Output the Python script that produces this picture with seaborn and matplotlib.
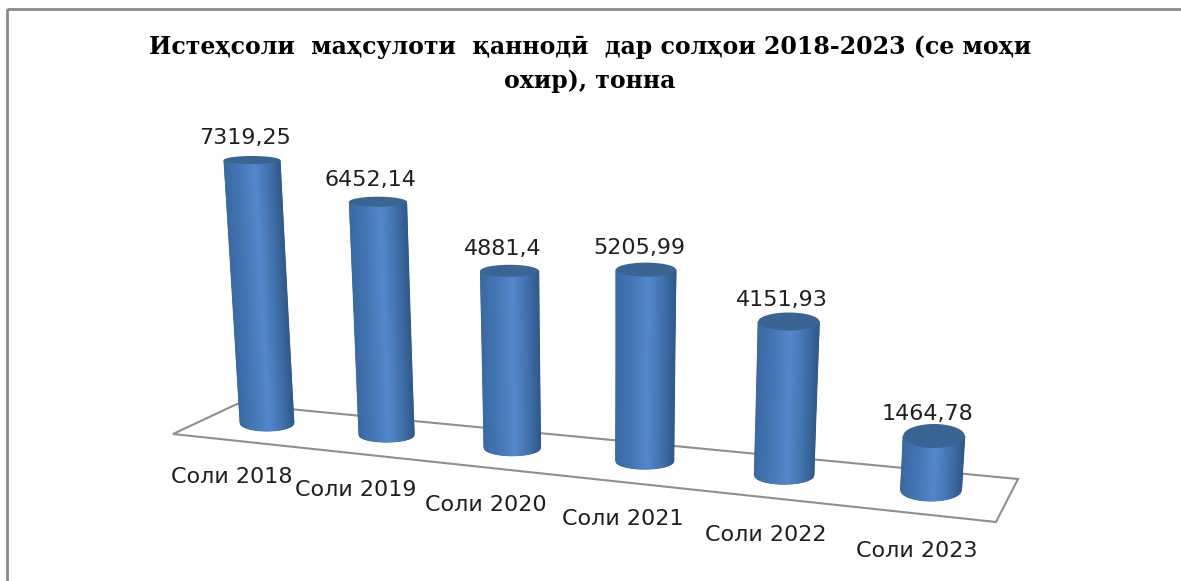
import numpy as np
import pandas as pd
import matplotlib
matplotlib.use("Agg")
import matplotlib.pyplot as plt
import seaborn as sns
from matplotlib.colors import LinearSegmentedColormap
from matplotlib.patches import Polygon, Rectangle
from matplotlib.transforms import Affine2D

# Chart content
TITLE_LINE_1 = "Истеҳсоли  маҳсулоти  қаннодӣ  дар солҳои 2018-2023 (се моҳи"
TITLE_LINE_2 = "охир), тонна"
years = ["Соли 2018", "Соли 2019", "Соли 2020", "Соли 2021", "Соли 2022", "Соли 2023"]
tonnes = [7319.25, 6452.14, 4881.4, 5205.99, 4151.93, 1464.78]
value_labels = ["7319,25", "6452,14", "4881,4", "5205,99", "4151,93", "1464,78"]

W, H = 1181, 581

# Cylinder rim depth in pixels, growing toward the viewer on the right
TOP_RIM = [4, 5, 6, 7, 9, 12]
BASE_RIM = [8, 7, 8, 8, 9, 11]

sns.set_theme(style="white")
plt.rcParams["font.family"] = ["DejaVu Sans"]

fig = plt.figure(figsize=(W / 100, H / 100), dpi=100, facecolor="white")
ax = fig.add_axes([0, 0, 1, 1])
table = pd.DataFrame({"position": np.arange(len(years)), "tonnes": tonnes})
sns.barplot(data=table, x="position", y="tonnes", ax=ax, color="#4a7ab5", width=0.43,
            errorbar=None, saturation=1, native_scale=True)
ax.set_axis_off()
bars = list(ax.patches)


def solve_camera(pairs):
    """Homography from (category, value) to image pixels, from four point pairs."""
    rows, rhs = [], []
    for (c, v), (px, py) in pairs:
        rows.append([c, v, 1, 0, 0, 0, -c * px, -v * px])
        rows.append([0, 0, 0, c, v, 1, -c * py, -v * py])
        rhs += [px, py]
    return np.append(np.linalg.solve(np.array(rows, float), np.array(rhs, float)), 1).reshape(3, 3)


CAMERA = solve_camera([
    ((0, 0), (267, 423)),
    ((5, 0), (931, 490)),
    ((0, tonnes[0]), (252, 160)),
    ((5, tonnes[5]), (934, 436)),
])


def project(c, v):
    """Pixel position of a category/value point; categories bunch slightly toward the far end."""
    c = c - 0.0115 * c * (5 - c)
    px, py, w = CAMERA @ np.array([c, v, 1.0])
    return np.array([px / w, py / w])


pixels = Affine2D().scale(1, -1).translate(0, H)

# Outer frame of the chart area
fig.add_artist(Rectangle((7, 9), W + 20, H + 20, fill=False, ec="#8a8a8a", lw=2.0,
                         transform=pixels))

# Floor outline under the cylinders
floor = np.array([(173, 434), (237, 404), (1018, 479), (996, 522)])
ax.add_patch(Polygon(floor, closed=True, fill=False, ec="#8f8f8f", lw=1.5,
                     transform=pixels, zorder=1, clip_on=False))

wall = LinearSegmentedColormap.from_list(
    "cylinder",
    [(0.0, "#3a6aa4"), (0.25, "#4576b4"), (0.55, "#5388cb"),
     (0.8, "#4272ad"), (1.0, "#2f5a8c")],
)

u = np.linspace(-1, 1, 61)
t = np.linspace(0, 2 * np.pi, 90)
for i, bar in enumerate(bars):
    cx = bar.get_x() + bar.get_width() / 2
    half = bar.get_width() / 2
    top = bar.get_height()
    foot = project(cx, 0)
    head = project(cx, top)
    # Radii stay close to constant along the row, so the projected width is damped
    damp = 1.07 - 0.026 * i
    r_foot = damp * (project(cx + half, 0)[0] - project(cx - half, 0)[0]) / 2
    r_head = damp * (project(cx + half, top)[0] - project(cx - half, top)[0]) / 2

    # Curved wall replaces the flat bar; its lower edge follows the base ellipse
    bar.set_visible(False)
    X = np.vstack([foot[0] + r_foot * u, head[0] + r_head * u])
    Y = np.vstack([foot[1] + BASE_RIM[i] * np.sqrt(1 - u ** 2), np.full_like(u, head[1])])
    C = np.vstack([(u + 1) / 2, (u + 1) / 2])
    mesh = ax.pcolormesh(X, Y, C, shading="gouraud", cmap=wall, vmin=0, vmax=1,
                         transform=pixels, zorder=3)
    mesh.set_clip_on(False)

    # Darker lid of the cylinder
    lid = np.c_[head[0] + r_head * np.cos(t), head[1] + TOP_RIM[i] * np.sin(t)]
    ax.add_patch(Polygon(lid, closed=True, fc="#396493", ec="none", transform=pixels,
                         zorder=4, clip_on=False))

    # Value above the lid, category name below the floor
    ax.annotate(value_labels[i], xy=head, xycoords=pixels,
                xytext=(-7 * 0.72, 22 * 0.72), textcoords="offset points",
                ha="center", va="center", fontsize=16, color="#1f1f1f", zorder=5)
    ax.annotate(years[i], xy=foot, xycoords=pixels,
                xytext=((-35 + 4.2 * i) * 0.72, -(54 + 1.4 * i) * 0.72),
                textcoords="offset points", ha="center", va="center",
                fontsize=16, color="#1f1f1f", zorder=5)

title_font = dict(family="DejaVu Serif", weight="bold", fontsize=17, color="black",
                  ha="center", va="center", transform=pixels)
fig.text(590, 47, TITLE_LINE_1, **title_font)
fig.text(590, 81, TITLE_LINE_2, **title_font)

fig.savefig("out.png", dpi=100, facecolor="white")
